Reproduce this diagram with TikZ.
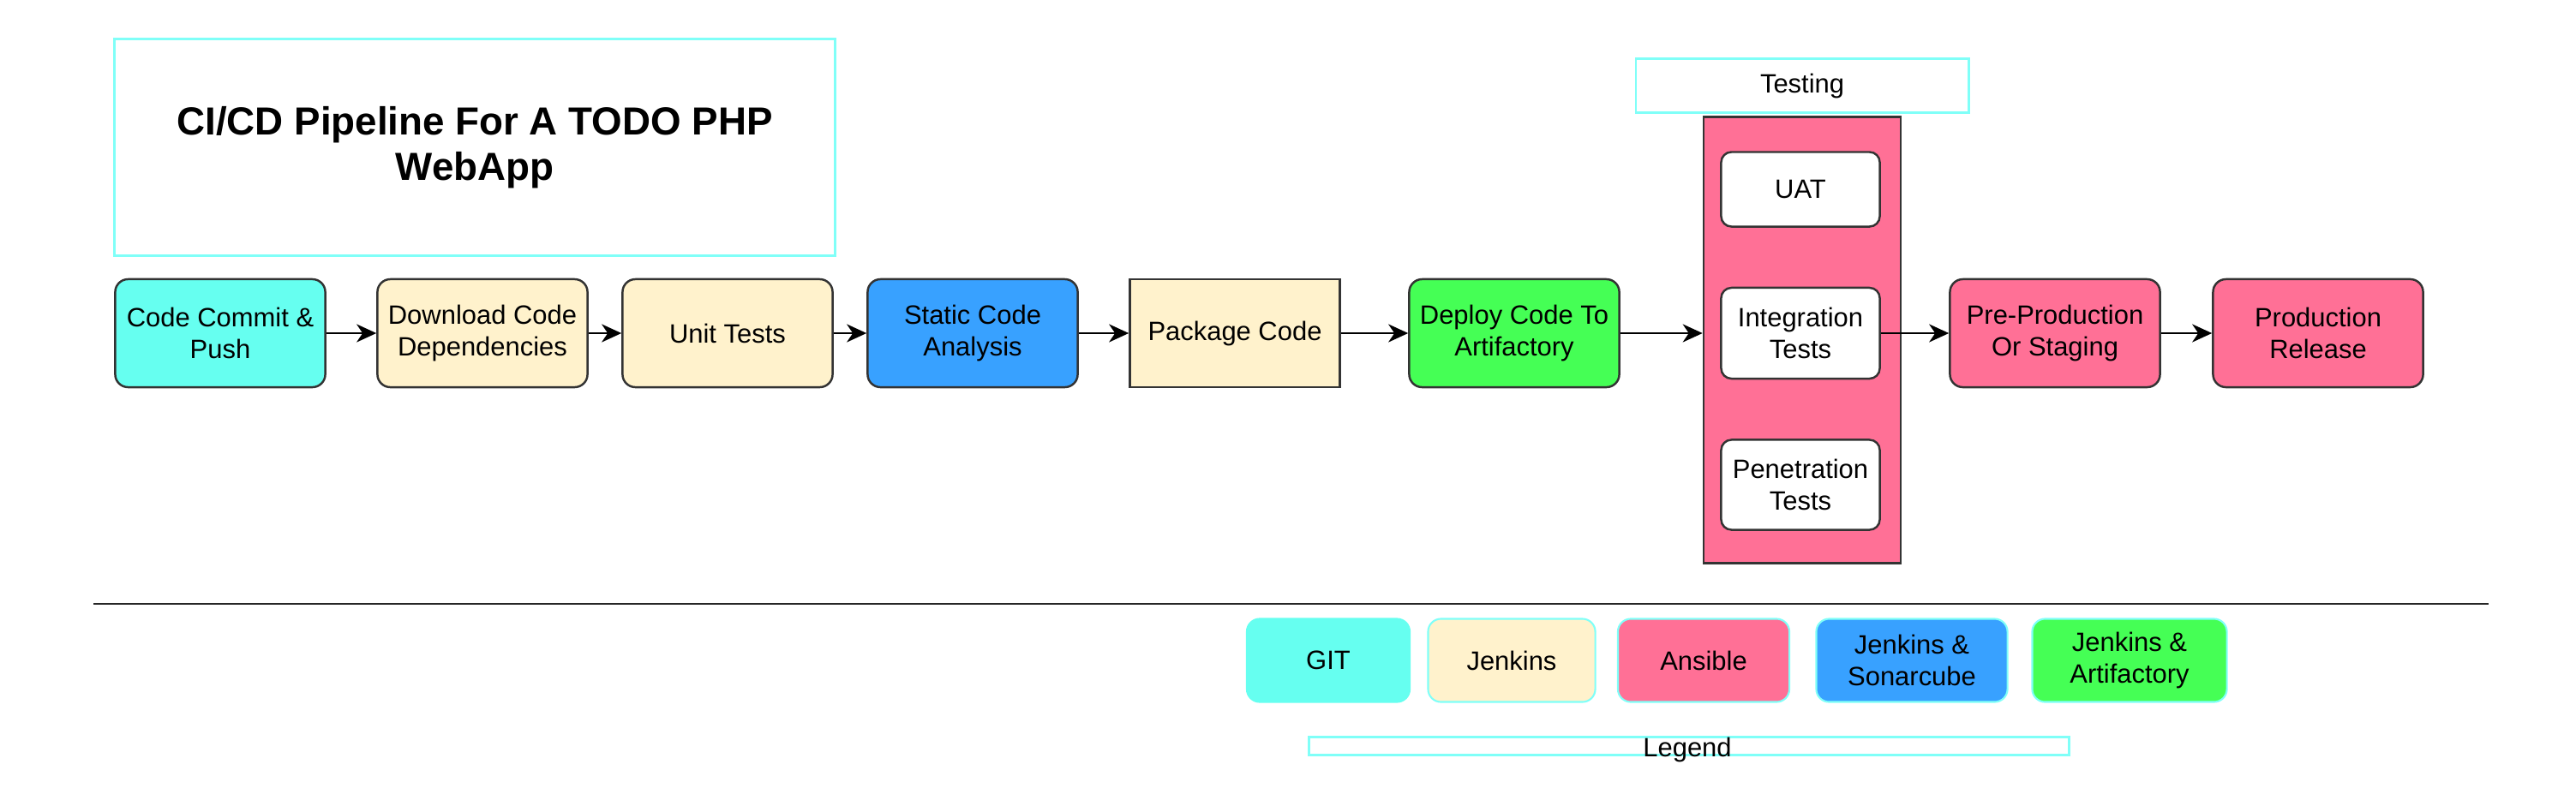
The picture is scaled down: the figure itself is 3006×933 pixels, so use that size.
\documentclass[tikz,border=0pt]{standalone}
\usepackage{fontspec}
\setmainfont{Liberation Sans}
\usetikzlibrary{arrows.meta,positioning}

\definecolor{gitcyan}{HTML}{66FFF0}
\definecolor{edgecyan}{HTML}{80FFF8}
\definecolor{jenkyellow}{HTML}{FFF2CC}
\definecolor{sonarblue}{HTML}{38A1FF}
\definecolor{artgreen}{HTML}{45FF55}
\definecolor{ansipink}{HTML}{FF7096}
\newcommand{\stagefont}{\fontsize{8.8}{10.4}\selectfont}

\begin{document}
\begin{tikzpicture}[>={Stealth[length=2.3mm,width=2.1mm,inset=0.7mm]},x=0.01cm,y=-0.01cm,
  stage/.style={draw=black!80,line width=0.7pt,rounded corners=0.15cm,minimum width=2.45cm,minimum height=1.26cm,align=center,font=\stagefont,inner sep=2pt},
  test/.style={draw=black!80,line width=0.7pt,rounded corners=0.12cm,fill=white,minimum width=1.85cm,align=center,font=\stagefont,inner sep=2pt},
  legend/.style={draw=edgecyan,line width=0.6pt,rounded corners=0.15cm,minimum height=0.97cm,align=center,font=\stagefont,inner sep=2pt},
  label/.style={draw=edgecyan,line width=0.8pt,align=center,inner sep=0pt},
  flow/.style={->,line width=0.75pt}]
\useasboundingbox (0,0) rectangle (3006,933);
% title
\node[label,minimum width=8.40cm,minimum height=2.53cm,font=\fontsize{13}{15}\selectfont\bfseries] (title) at (554,172) {CI/CD Pipeline For A TODO PHP\\WebApp};
% pipeline
\node[stage,fill=gitcyan] (commit) at (257,389) {Code Commit \&\\Push};
\node[stage,fill=jenkyellow] (deps) at (563,389) {Download Code\\Dependencies};
\node[stage,fill=jenkyellow] (unit) at (849,389) {Unit Tests};
\node[stage,fill=sonarblue] (static) at (1135,389) {Static Code\\Analysis};
\node[stage,fill=jenkyellow,rounded corners=0pt] (package) at (1441,389) {Package Code};
\node[stage,fill=artgreen] (deploy) at (1767,389) {Deploy Code To\\Artifactory};
\node[label,minimum width=3.88cm,minimum height=0.63cm,font=\stagefont] (testlbl) at (2103,100) {Testing};
\node[draw=black!80,line width=0.7pt,fill=ansipink,minimum width=2.30cm,minimum height=5.21cm] (testbox) at (2103,397) {};
\node[test,minimum height=0.87cm] (uat) at (2101,221) {UAT};
\node[test,minimum height=1.06cm] (integ) at (2101,389) {Integration\\Tests};
\node[test,minimum height=1.05cm] (pentest) at (2101,566) {Penetration\\Tests};
\node[stage,fill=ansipink] (preprod) at (2398,389) {Pre-Production\\Or Staging};
\node[stage,fill=ansipink] (prod) at (2705,389) {Production\\Release};
\draw[flow] (commit) -- (deps);
\draw[flow] (deps) -- (unit);
\draw[flow] (unit) -- (static);
\draw[flow] (static) -- (package);
\draw[flow] (package) -- (deploy);
\draw[flow] (deploy.east) -- (deploy.east -| testbox.west);
\draw[flow] (integ.east) -- (preprod.west);
\draw[flow] (preprod) -- (prod);
% separator
\coordinate (sepL) at (109,705);
\coordinate (sepR) at (2904,705);
\draw[line width=0.7pt,black!85] (sepL) -- (sepR);
% legend
\node[legend,fill=gitcyan,draw=gitcyan,minimum width=1.90cm] (lgit) at (1550,771) {GIT};
\node[legend,fill=jenkyellow,minimum width=1.95cm] (ljenkins) at (1764,771) {Jenkins};
\node[legend,fill=ansipink,minimum width=2.00cm] (lansible) at (1988,771) {Ansible};
\node[legend,fill=sonarblue,minimum width=2.23cm] (lsonar) at (2231,771) {Jenkins \&\\Sonarcube};
\node[legend,fill=artgreen,minimum width=2.27cm] (lart) at (2485,771) {Jenkins \&\\Artifactory};
\node[label,minimum width=8.86cm,minimum height=0.21cm] (legendbox) at (1971,871) {};
\node[font=\stagefont,inner sep=0pt] (legendlbl) at (1969,875) {Legend};
\end{tikzpicture}
\end{document}
